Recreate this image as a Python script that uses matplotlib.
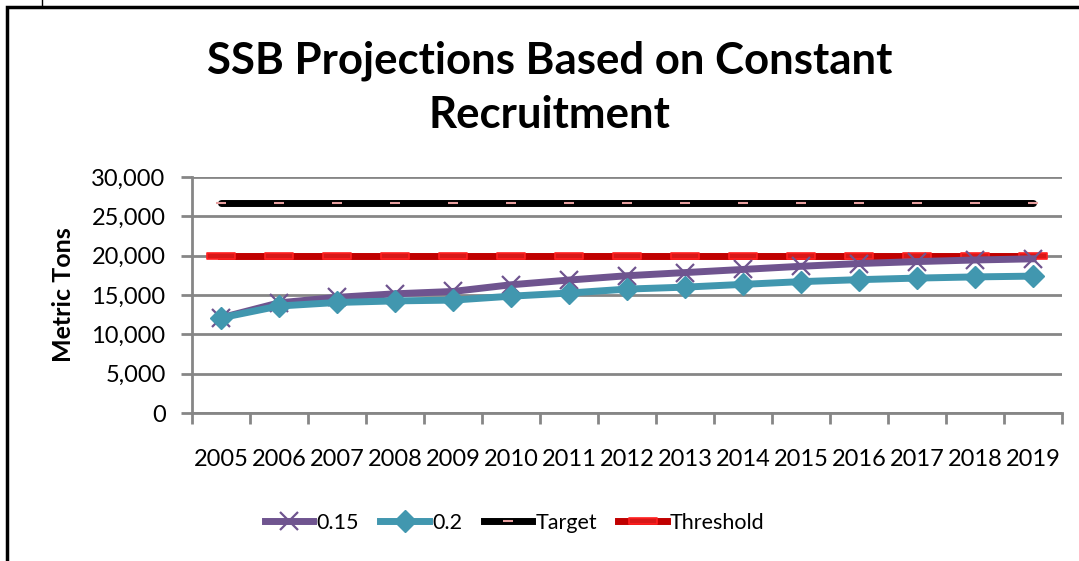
import matplotlib
matplotlib.use('Agg')
import matplotlib.pyplot as plt
from matplotlib.patches import Rectangle
from matplotlib.lines import Line2D
from matplotlib.path import Path
import numpy as np

# ── Data ──────────────────────────────────────────────
years = [str(y) for y in range(2005, 2020)]
f015 = [12100, 14000, 14700, 15150, 15450, 16300, 16900, 17450,
        17850, 18250, 18650, 19000, 19250, 19450, 19600]
f020 = [12100, 13600, 14050, 14250, 14350, 14850, 15250, 15750,
        16000, 16350, 16700, 16950, 17150, 17300, 17400]
target = [26700] * len(years)
threshold = [20000] * len(years)

PURPLE = "#6f548f"
TEAL = "#4197af"
RED = "#c00000"
GRID = "#868686"

# wide flat rectangle marker used on the threshold line
BAR = Path([(-2, -0.5), (2, -0.5), (2, 0.5), (-2, 0.5), (-2, -0.5)],
           [Path.MOVETO, Path.LINETO, Path.LINETO, Path.LINETO, Path.CLOSEPOLY])

plt.rcParams['font.family'] = ['Lato', 'DejaVu Sans']

fig = plt.figure(figsize=(10.79, 5.61), dpi=100)
ax = fig.add_axes([192 / 1079, 1 - 413 / 561, 870 / 1079, 236 / 561])

tgt_kw = dict(color="black", lw=5, marker="_", ms=7, mec="#e8a0a0", mew=1.5)
thr_kw = dict(color=RED, lw=5, marker=BAR, ms=20, mfc="#d81818",
              mec="#ff2020", mew=1.2)
p_kw = dict(color=PURPLE, lw=5, marker="x", ms=13, mew=1.6)
t_kw = dict(color=TEAL, lw=5, marker="D", ms=11, mec=TEAL)

x = np.arange(len(years))
ax.plot(x, target, solid_capstyle="round", zorder=3, **tgt_kw)
ax.plot(x, threshold, zorder=3, **thr_kw)
ax.plot(x, f015, zorder=4, **p_kw)
ax.plot(x, f020, zorder=5, **t_kw)

ax.set_xlim(-0.5, len(years) - 0.5)
ax.set_ylim(0, 30000)
ax.set_yticks(np.arange(0, 30001, 5000))
ax.set_yticklabels([f"{v:,}" for v in range(0, 30001, 5000)], fontsize=17)
ax.set_xticks(np.arange(-0.5, len(years), 1.0))
ax.set_xticklabels([])
ax.set_xticks(x, minor=True)
ax.set_xticklabels(years, minor=True, fontsize=17)
ax.tick_params(axis="x", which="minor", length=0, pad=26)
ax.tick_params(axis="x", which="major", length=8, width=2, color=GRID)
ax.tick_params(axis="y", length=8, width=2, color=GRID, pad=11)

ax.grid(axis="y", color=GRID, linewidth=2)
ax.set_axisbelow(True)
for s in ["top", "right"]:
    ax.spines[s].set_visible(False)
for s in ["left", "bottom"]:
    ax.spines[s].set_color(GRID)
    ax.spines[s].set_linewidth(2)

ax.set_ylabel("Metric Tons", fontsize=18, fontweight="bold", labelpad=12)

fig.text(0.509, 0.843, "SSB Projections Based on Constant\nRecruitment",
         ha="center", va="center", fontsize=31.5, fontweight="bold",
         linespacing=1.42)

handles = [Line2D([], [], **p_kw), Line2D([], [], **t_kw),
           Line2D([], [], **tgt_kw), Line2D([], [], **thr_kw)]
fig.legend(handles, ["0.15", "0.2", "Target", "Threshold"], loc="center",
           bbox_to_anchor=(0.477, 1 - 523 / 561), ncol=4, frameon=False,
           fontsize=15.5, handlelength=2.25, handletextpad=0.15,
           columnspacing=1.0, numpoints=1)

# outer frame
fig.patches.append(Rectangle((7 / 1079, -0.1), 1.2, 1 - 7 / 561 + 0.1,
                             transform=fig.transFigure, fill=False,
                             edgecolor="black", lw=2.5))
fig.lines.append(Line2D([42 / 1079, 42 / 1079], [1, 1 - 7 / 561],
                        transform=fig.transFigure, color="black", lw=1))

fig.savefig("out.png", dpi=100)
